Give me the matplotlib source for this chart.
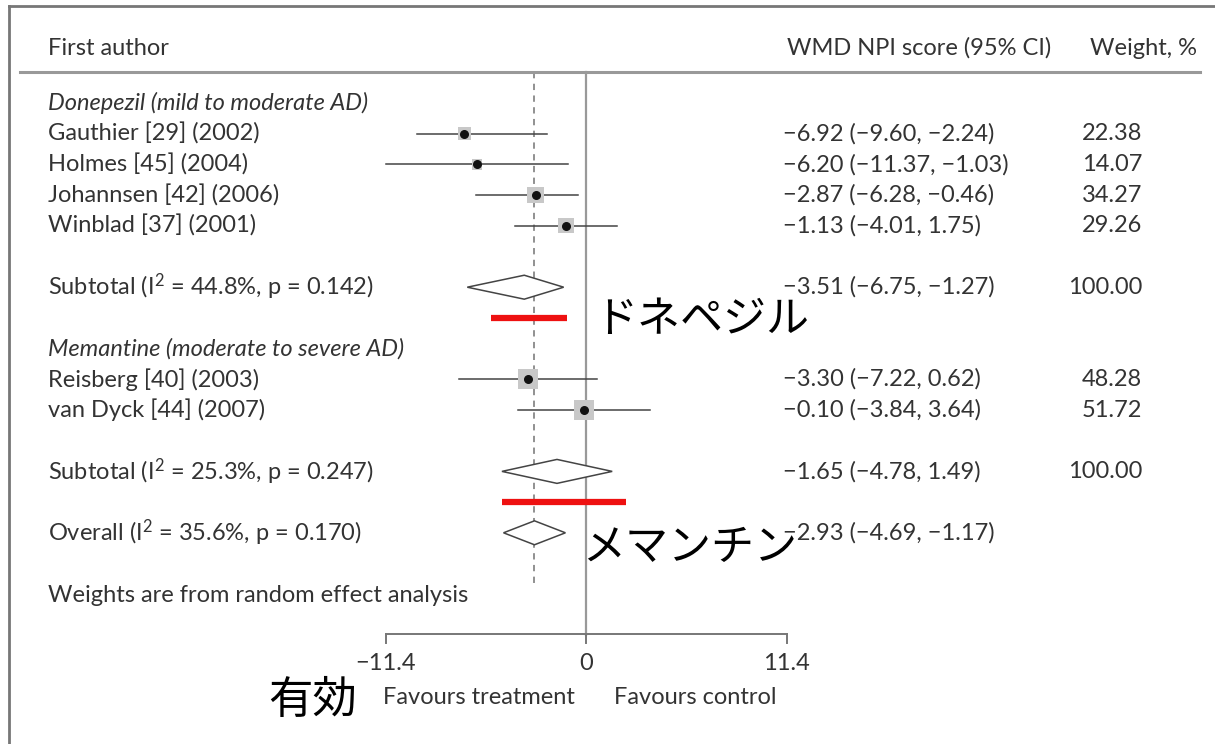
import matplotlib
matplotlib.use("Agg")
import matplotlib.pyplot as plt
from matplotlib.patches import Polygon
from matplotlib.transforms import blended_transform_factory

plt.rcParams['font.family'] = ['Lato', 'DejaVu Sans']
plt.rcParams['mathtext.fontset'] = 'custom'
plt.rcParams['mathtext.rm'] = 'Lato'
plt.rcParams['mathtext.it'] = 'Lato:italic'
plt.rcParams['mathtext.bf'] = 'Lato:bold'

# ---- data -------------------------------------------------------------
studies = ["Gauthier [29] (2002)", "Holmes [45] (2004)", "Johannsen [42] (2006)",
           "Winblad [37] (2001)", "Reisberg [40] (2003)", "van Dyck [44] (2007)"]
study_rows = [1, 2, 3, 4, 9, 10]
wmd = [-6.92, -6.20, -2.87, -1.13, -3.30, -0.10]
ci_low = [-9.60, -11.37, -6.28, -4.01, -7.22, -3.84]
ci_high = [-2.24, -1.03, -0.46, 1.75, 0.62, 3.64]
weights = [22.38, 14.07, 34.27, 29.26, 48.28, 51.72]

pooled_labels = ["Subtotal (I$^\\mathrm{2}$ = 44.8%, p = 0.142)",
                 "Subtotal (I$^\\mathrm{2}$ = 25.3%, p = 0.247)",
                 "Overall (I$^\\mathrm{2}$ = 35.6%, p = 0.170)"]
pooled_rows = [6, 12, 14]
pooled_est = [-3.51, -1.65, -2.93]
pooled_low = [-6.75, -4.78, -4.69]
pooled_high = [-1.27, 1.49, -1.17]
pooled_weight = ["100.00", "100.00", ""]

group_labels = ["Donepezil (mild to moderate AD)", "Memantine (moderate to severe AD)"]
group_rows = [0, 8]

xticks = [-11.4, 0, 11.4]
xtick_labels = ["\u221211.4", "0", "11.4"]

# highlighted subgroup ranges with Japanese captions
highlight_rows = [7, 13]
highlight_low = [-5.4, -4.8]
highlight_high = [-1.1, 2.3]
jp_labels = ["ドネペジル", "メマンチン", "有効"]

# ---- figure -----------------------------------------------------------
W, H = 1215, 744
fig = plt.figure(figsize=(W / 100, H / 100), dpi=100)
ax = fig.add_axes([0, 0, 1, 1])
ax.set_axis_off()

px_per_unit = (786 - 385) / 22.8
x0_px = 586
ax.set_xlim(-x0_px / px_per_unit, (W - x0_px) / px_per_unit)
row_px, row0_px = 30.7, 103
ax.set_ylim((H - row0_px) / row_px, -row0_px / row_px)

def row_of(py):
    return (py - row0_px) / row_px

def fx(px):
    return px / W

def fmt(v):
    return f"\u2212{abs(v):.2f}" if v < 0 else f"{v:.2f}"

tr = blended_transform_factory(ax.transAxes, ax.transData)
txt = "#333333"
fs = 17

# frame (left and top edges)
fig.add_artist(plt.Line2D([fx(9), fx(9)], [0, 1 - 6 / H], color="#777777", lw=2))
fig.add_artist(plt.Line2D([fx(9), 1], [1 - 6 / H, 1 - 6 / H], color="#777777", lw=2))

# header
hdr = row_of(48)
ax.text(fx(48), hdr, "First author", transform=tr, ha="left", va="center", fontsize=fs, color=txt)
ax.text(fx(787), hdr, "WMD NPI score (95% CI)", transform=tr, ha="left", va="center", fontsize=fs, color=txt)
ax.text(fx(1197), hdr, "Weight, %", transform=tr, ha="right", va="center", fontsize=fs, color=txt)
ax.plot([fx(20), fx(1200)], [row_of(72)] * 2, transform=tr, color="#999999", lw=2.2)

# reference lines
ax.plot([0, 0], [row_of(72), row_of(635)], color="#999999", lw=1.6, zorder=1)
ax.plot([pooled_est[2]] * 2, [row_of(72), row_of(585)], color="#888888", lw=1.3,
        ls=(0, (3.5, 3)), zorder=1)

# group headings
for lab, r in zip(group_labels, group_rows):
    ax.text(fx(48), r, lab, transform=tr, ha="left", va="center", fontsize=fs,
            color=txt, style="italic")

# individual studies
for name, r, m, lo, hi, w in zip(studies, study_rows, wmd, ci_low, ci_high, weights):
    ax.text(fx(48), r, name, transform=tr, ha="left", va="center", fontsize=fs, color=txt)
    ax.plot([lo, hi], [r, r], color="#444444", lw=1.1, zorder=2)
    ax.scatter([m], [r], marker="s", s=w * 4.2, color="#c8c8c8", edgecolors="none", zorder=3)
    ax.scatter([m], [r], marker="o", s=30, color="#111111", zorder=4)
    ax.text(fx(783), r, f"{fmt(m)} ({fmt(lo)}, {fmt(hi)})",
            transform=tr, ha="left", va="center", fontsize=fs, color=txt)
    ax.text(fx(1142), r, f"{w:.2f}", transform=tr, ha="right", va="center", fontsize=fs, color=txt)

# pooled estimates
for lab, r, m, lo, hi, w in zip(pooled_labels, pooled_rows, pooled_est, pooled_low,
                                pooled_high, pooled_weight):
    ax.text(fx(48), r, lab, transform=tr, ha="left", va="center", fontsize=fs, color=txt)
    hh = 0.39
    ax.add_patch(Polygon([[lo, r], [m, r - hh], [hi, r], [m, r + hh]], closed=True,
                         facecolor="white", edgecolor="#444444", lw=1.1, zorder=3))
    ax.text(fx(783), r, f"{fmt(m)} ({fmt(lo)}, {fmt(hi)})",
            transform=tr, ha="left", va="center", fontsize=fs, color=txt)
    if w:
        ax.text(fx(1142), r, w, transform=tr, ha="right", va="center", fontsize=fs, color=txt)

ax.text(fx(48), row_of(595), "Weights are from random effect analysis", transform=tr,
        ha="left", va="center", fontsize=fs, color=txt)

# x axis
ya = row_of(634)
ax.plot([xticks[0], xticks[-1]], [ya, ya], color="#777777", lw=1.4)
for t, tl in zip(xticks, xtick_labels):
    ax.plot([t, t], [ya, row_of(643)], color="#777777", lw=1.4)
    ax.text(t, row_of(663), tl, ha="center", va="center", fontsize=fs, color=txt)
ax.text(-6.1, row_of(697), "Favours treatment", ha="center", va="center", fontsize=fs, color=txt)
ax.text(6.2, row_of(697), "Favours control", ha="center", va="center", fontsize=fs, color=txt)

# highlighted ranges and captions
for r, lo, hi in zip(highlight_rows, highlight_low, highlight_high):
    ax.plot([lo, hi], [r, r], color="#ee1111", lw=4.5, solid_capstyle="butt", zorder=5)

jp = ['Noto Sans CJK JP', 'DejaVu Sans']
ax.text(fx(594), row_of(320), jp_labels[0], transform=tr, ha="left", va="center",
        fontsize=31, family=jp, color="black")
ax.text(fx(582), row_of(548), jp_labels[1], transform=tr, ha="left", va="center",
        fontsize=31, family=jp, color="black")
ax.text(fx(268), row_of(700), jp_labels[2], transform=tr, ha="left", va="center",
        fontsize=32, family=jp, color="black")

fig.savefig("out.png", dpi=100)
